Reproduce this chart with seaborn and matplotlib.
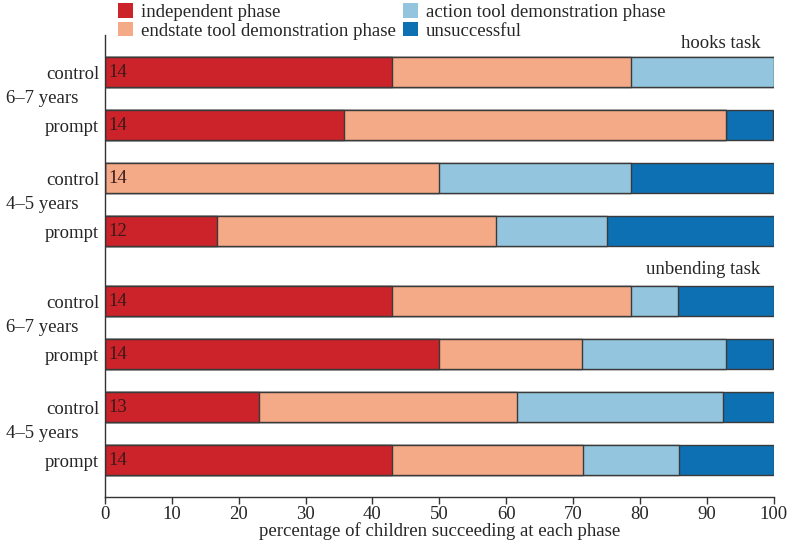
import numpy as np
import pandas as pd
import seaborn as sns
import matplotlib.pyplot as plt
from matplotlib.patches import Patch
from matplotlib.transforms import blended_transform_factory

sns.set_style("white")
plt.rcParams["font.family"] = ["Liberation Serif", "DejaVu Serif"]

# bars top to bottom: hooks 6-7 (control, prompt), hooks 4-5, unbending 6-7, unbending 4-5
conditions = ["control", "prompt"] * 4
ages = ["6–7 years", "4–5 years", "6–7 years", "4–5 years"]
tasks = ["hooks task", "unbending task"]
n_children = [14, 14, 14, 12, 14, 14, 13, 14]

independent = [42.9, 35.7, 0.0, 16.7, 42.9, 50.0, 23.1, 42.9]
endstate = [35.7, 57.1, 50.0, 41.7, 35.7, 21.4, 38.5, 28.6]
action = [21.4, 0.0, 28.6, 16.7, 7.1, 21.4, 30.8, 14.3]
unsuccessful = [0.0, 7.1, 21.4, 25.0, 14.3, 7.1, 7.7, 14.3]

phases = ["independent phase", "endstate tool demonstration phase",
          "action tool demonstration phase", "unsuccessful"]
colors = ["#cc2229", "#f4a987", "#93c5de", "#0d70b2"]

# vertical positions (extra gap between the two tasks)
ypos = [0, 1, 2, 3, 4.32, 5.32, 6.32, 7.32]

df = pd.DataFrame({"y": ypos, "independent": independent, "endstate": endstate,
                   "action": action, "unsuccessful": unsuccessful})
parts = [df["independent"], df["endstate"], df["action"], df["unsuccessful"]]
cums = np.cumsum(np.array(parts), axis=0)

fig, ax = plt.subplots(figsize=(7.88, 5.41), dpi=100)
fig.subplots_adjust(left=0.133, right=0.982, top=0.935, bottom=0.081)

# draw cumulative totals from the right-most segment back to the left
for i in range(3, -1, -1):
    d = pd.DataFrame({"y": ypos, "x": cums[i]})
    sns.barplot(data=d, x="x", y="y", orient="y", native_scale=True,
                width=0.57, color=colors[i], saturation=1,
                edgecolor="#3a3a3a", linewidth=1.0, ax=ax)

ax.set_xlim(0, 100)
ax.set_ylim(7.32 + 0.7, -0.7)
ax.set_xticks(range(0, 101, 10))
ax.set_yticks(ypos)
ax.set_yticklabels(conditions)
ax.tick_params(axis="x", direction="out", length=5, width=1, color="#333333",
               labelsize=13.5, pad=1, bottom=True)
ax.tick_params(axis="y", length=0, labelsize=13.5, pad=4)
ax.set_ylabel("")
ax.set_xlabel("percentage of children succeeding at each phase", fontsize=13.5, labelpad=0)

for s in ["top", "right"]:
    ax.spines[s].set_visible(False)
for s in ["left", "bottom"]:
    ax.spines[s].set_color("#333333")
    ax.spines[s].set_linewidth(1.0)

# counts inside bars
for y, n in zip(ypos, n_children):
    ax.text(0.5, y, str(n), va="center", ha="left", fontsize=13.5, color="#3a1a1a")

# age group labels
trans = blended_transform_factory(fig.transFigure, ax.transData)
for k, age in enumerate(ages):
    ymid = (ypos[2 * k] + ypos[2 * k + 1]) / 2
    ax.text(0.008, ymid, age, transform=trans, ha="left", va="center", fontsize=13.5)

# task labels
ax.text(98, -0.55, tasks[0], ha="right", va="center", fontsize=13.5)
ax.text(98, ypos[4] - 0.6, tasks[1], ha="right", va="center", fontsize=13.5)

handles = [Patch(facecolor=c, edgecolor="none") for c in colors]
leg = fig.legend(handles, phases, loc="upper left", bbox_to_anchor=(0.128, 1.025),
                 ncol=2, frameon=False, fontsize=13.5, handlelength=0.8,
                 handleheight=0.8, handletextpad=0.45, columnspacing=0.35,
                 labelspacing=0.05)

plt.savefig("out.png", dpi=100)
